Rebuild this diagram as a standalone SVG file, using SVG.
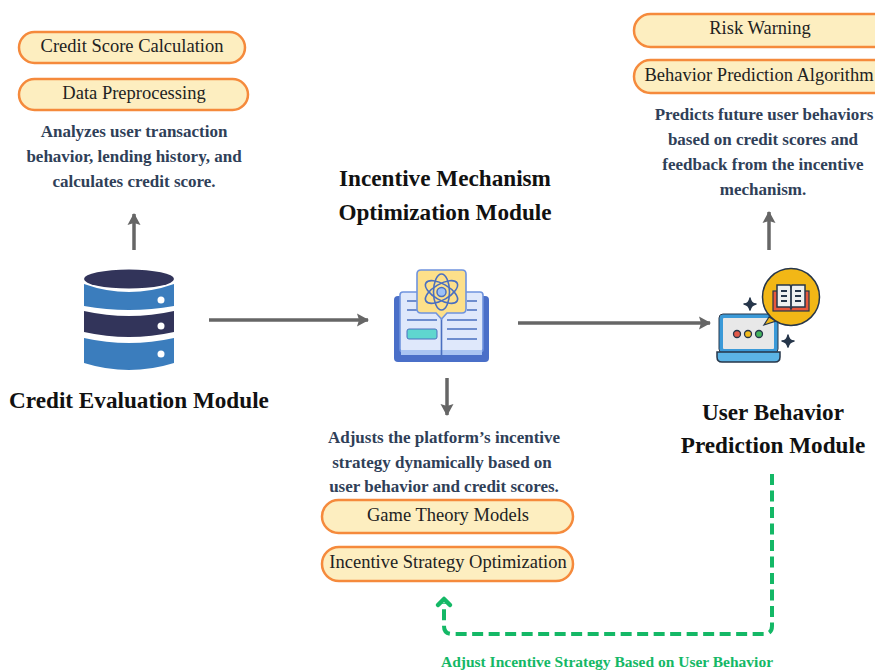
<svg xmlns="http://www.w3.org/2000/svg" width="875" height="671" viewBox="0 0 875 671">
<style>
text{font-family:"Liberation Serif","Times New Roman",serif;text-anchor:middle}
.pill{fill:#fdeec0;stroke:#f58a3c;stroke-width:2.5}
.pt{font-size:18.5px;fill:#222}
.d{font-size:17px;font-weight:bold;fill:#2f4058}
.h{font-size:23.2px;font-weight:bold;fill:#111}
.a{fill:none;stroke:#666;stroke-width:3.5}
.gl{fill:none;stroke:#4a6fc0;stroke-width:1.6}
.pl{stroke:#4a6fc0;stroke-width:1.6;fill:none}
</style>
<defs>
<marker id="ah" markerUnits="userSpaceOnUse" markerWidth="16" markerHeight="16" refX="12" refY="8" orient="auto"><path d="M1 1.500L13 8L1 14.500L3 8Z" fill="#666"/></marker>
</defs>
<rect width="875" height="671" fill="#fff"/>
<g id="connectors">
<path class="a" d="M134 250V214" marker-end="url(#ah)"/>
<path class="a" d="M209 320H368" marker-end="url(#ah)"/>
<path class="a" d="M518 323H710" marker-end="url(#ah)"/>
<path class="a" d="M447 378V415" marker-end="url(#ah)"/>
<path class="a" d="M769 250V212" marker-end="url(#ah)"/>
<path fill="none" stroke="#14b866" stroke-width="4" stroke-dasharray="11 5.500" d="M772 474V626Q772 634 764 634H452Q444 634 444 626V603"/>
<path fill="none" stroke="#14b866" stroke-width="4.500" stroke-linecap="round" stroke-linejoin="round" d="M438 605L444 599L450 605"/>
</g>
<g id="credit-evaluation">
<path d="M84 284Q129 300 174 284V306Q129 314 84 306Z" fill="#3b7dbd"/>
<path d="M84 311Q129 321 174 311V332Q129 342 84 332Z" fill="#32345a"/>
<path d="M84 338Q129 348 174 338V363Q129 377 84 363Z" fill="#3b7dbd"/>
<ellipse cx="129" cy="279" rx="45" ry="9.500" fill="#32345a"/>
<circle cx="161" cy="300" r="3.500" fill="#fff"/><circle cx="161" cy="326" r="3.500" fill="#fff"/><circle cx="161" cy="354" r="3.500" fill="#fff"/>
<text class="h" x="139" y="408">Credit Evaluation Module</text>
<text class="d" x="134" y="137">Analyzes user transaction</text>
<text class="d" x="134" y="162">behavior, lending history, and</text>
<text class="d" x="134" y="187">calculates credit score.</text>
</g>
<g id="credit-score"><rect class="pill" x="19" y="32" width="226" height="31" rx="15.500"/><text class="pt" x="132" y="52">Credit Score Calculation</text></g>
<g id="data-preprocessing"><rect class="pill" x="19" y="79" width="229" height="31" rx="15.500"/><text class="pt" x="134" y="99">Data Preprocessing</text></g>
<g id="incentive-mechanism">
<text class="h" x="445" y="186">Incentive Mechanism</text>
<text class="h" x="445" y="220">Optimization Module</text>
<rect x="394" y="296" width="95" height="66" rx="4" fill="#4a6fc8"/>
<rect x="400" y="292" width="83" height="60" rx="3" fill="#dfe8fb" stroke="#6f93de" stroke-width="1.600"/>
<rect x="401" y="350" width="81" height="5" fill="#a9c4f2"/>
<path class="pl" d="M441.500 315V360M407 301H417M407 310H417M407 320H437M447 320H477M467 301H477M467 310H477M447 329H477M447 339H477"/>
<rect x="407" y="329" width="30" height="10" rx="2" fill="#5fd6cf" stroke="#4a6fc0"/>
<path d="M421 270H462Q466 270 466 274V309Q466 313 462 313H447L441.500 319L436 313H421Q417 313 417 309V274Q417 270 421 270Z" fill="#fde08a" stroke="#6f93de" stroke-width="1.600"/>
<g class="gl"><ellipse cx="441.500" cy="292" rx="8" ry="18"/><ellipse cx="441.500" cy="292" rx="8" ry="18" transform="rotate(60 441.500 292)"/><ellipse cx="441.500" cy="292" rx="8" ry="18" transform="rotate(-60 441.500 292)"/></g>
<circle cx="441.500" cy="292" r="4.500" fill="#9cc0f5" stroke="#4a6fc0" stroke-width="1.500"/>
<text class="d" x="444" y="443">Adjusts the platform’s incentive</text>
<text class="d" x="442" y="468">strategy dynamically based on</text>
<text class="d" x="444" y="492">user behavior and credit scores.</text>
</g>
<g id="game-theory"><rect class="pill" x="322" y="500" width="251" height="33" rx="16.500"/><text class="pt" x="448" y="521">Game Theory Models</text></g>
<g id="incentive-strategy"><rect class="pill" x="322" y="547" width="251" height="34" rx="17"/><text class="pt" x="448" y="568">Incentive Strategy Optimization</text></g>
<g id="user-behavior">
<rect x="721" y="316" width="55" height="35" rx="3" fill="#e8e8e8" stroke="#3b9ad8" stroke-width="4"/>
<rect x="719" y="314" width="59" height="39" rx="4" fill="none" stroke="#26364a" stroke-width="1"/>
<path d="M717 352H780V357Q780 362 775 362H722Q717 362 717 357Z" fill="#5cb4e6" stroke="#26364a" stroke-width="1.500"/>
<circle cx="737" cy="334" r="3.500" fill="#e25a4a" stroke="#26364a" stroke-width="1.300"/><circle cx="748" cy="334" r="3.500" fill="#f3bb1c" stroke="#26364a" stroke-width="1.300"/><circle cx="759" cy="334" r="3.500" fill="#43b35c" stroke="#26364a" stroke-width="1.300"/>
<path d="M750 298Q751 304 756 304Q751 305 750 310Q749 305 744 304Q749 304 750 298Z" fill="#26364a" stroke="#26364a" stroke-width="1.500" stroke-linejoin="round"/>
<path d="M788 335Q789 341 794 341Q789 342 788 347Q787 342 782 341Q787 341 788 335Z" fill="#26364a" stroke="#26364a" stroke-width="1.500" stroke-linejoin="round"/>
<path d="M769 317L764 325L776 321Z" fill="#f2b716" stroke="#26364a" stroke-width="1.200"/>
<circle cx="791" cy="297" r="28.500" fill="#f2b716" stroke="#26364a" stroke-width="1.500"/>
<rect x="773" y="291" width="36" height="20" fill="#e8583c" stroke="#26364a" stroke-width="1.200"/>
<path d="M777 285H790L791 287L792 285H805V307H792L791 309L790 307H777Z" fill="#eef0f0" stroke="#26364a" stroke-width="1.500"/>
<path d="M791 287V307M781 291H787M781 296H787M781 301H787M795 291H801M795 296H801M795 301H801" stroke="#26364a" stroke-width="1.800" fill="none"/>
<text class="h" x="773" y="420">User Behavior</text>
<text class="h" x="773" y="453">Prediction Module</text>
<text class="d" x="764" y="120">Predicts future user behaviors</text>
<text class="d" x="763" y="145">based on credit scores and</text>
<text class="d" x="763" y="170">feedback from the incentive</text>
<text class="d" x="763" y="195">mechanism.</text>
</g>
<g id="risk-warning"><rect class="pill" x="634" y="14" width="260" height="33" rx="16.500"/><text class="pt" x="760" y="34">Risk Warning</text></g>
<g id="behavior-prediction"><rect class="pill" x="634" y="60" width="260" height="33" rx="16.500"/><text class="pt" x="759" y="81">Behavior Prediction Algorithm</text></g>
<text x="607" y="667" font-size="15.500" font-weight="bold" fill="#14b866">Adjust Incentive Strategy Based on User Behavior</text>
</svg>
